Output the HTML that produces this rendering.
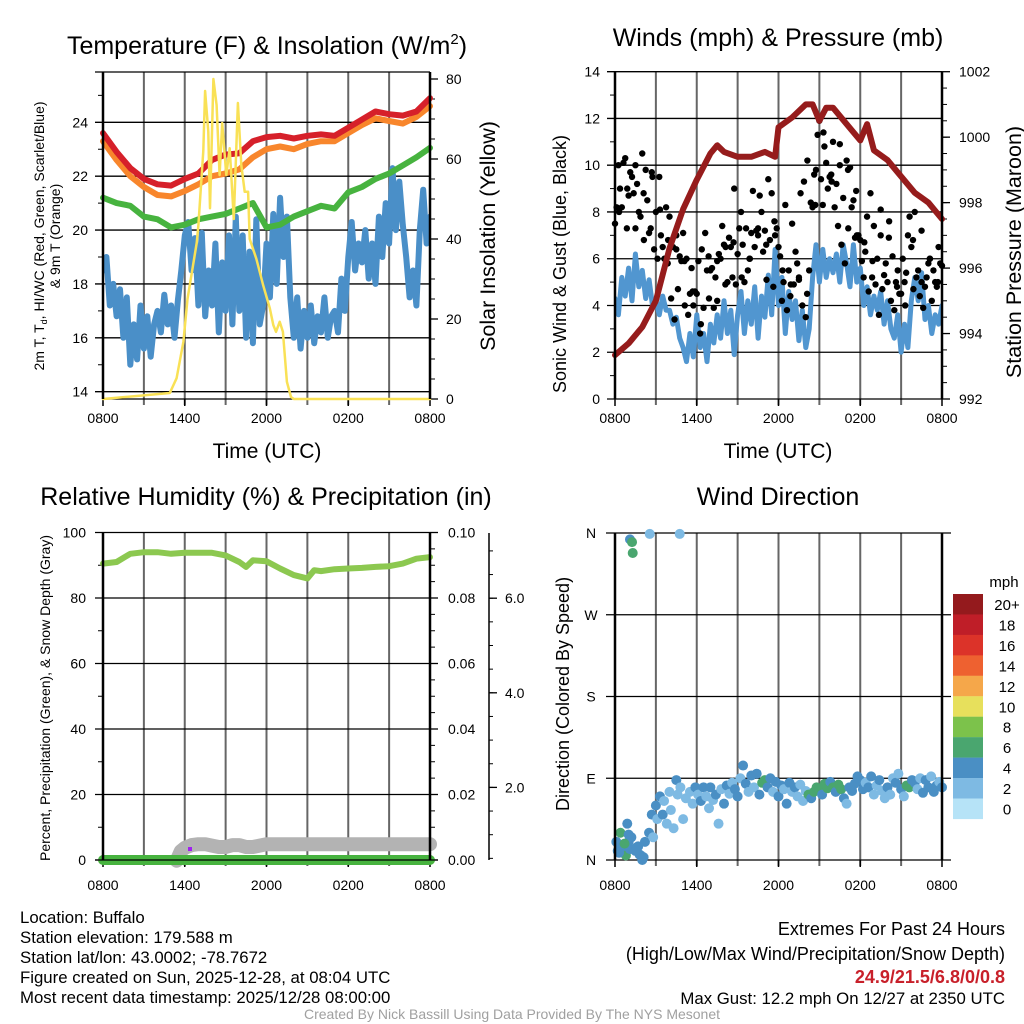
<!DOCTYPE html>
<html><head><meta charset="utf-8">
<style>
html,body{margin:0;padding:0;background:#fff;}
svg{display:block;font-family:"Liberation Sans",sans-serif;}
</style></head>
<body>
<svg id="chart" width="1024" height="1024" viewBox="0 0 1024 1024" xmlns="http://www.w3.org/2000/svg">
<rect width="1024" height="1024" fill="#fff"/>
<g id="layer"></g>
<text x="267" y="54" font-size="25" text-anchor="middle">Temperature (F) &amp; Insolation (W/m<tspan dy="-10" font-size="15">2</tspan><tspan dy="10">)</tspan></text>
<text x="778" y="46" font-size="25" text-anchor="middle">Winds (mph) &amp; Pressure (mb)</text>
<text x="266" y="505" font-size="25" text-anchor="middle">Relative Humidity (%) &amp; Precipitation (in)</text>
<text x="778" y="505" font-size="25" text-anchor="middle">Wind Direction</text>
<text x="267" y="458" font-size="21" text-anchor="middle">Time (UTC)</text>
<text x="778" y="458" font-size="21" text-anchor="middle">Time (UTC)</text>
<text transform="translate(44,236) rotate(-90)" font-size="14" text-anchor="middle">2m T, T<tspan dy="3" font-size="9">d</tspan><tspan dy="-3">, HI/WC (Red, Green, Scarlet/Blue)</tspan></text>
<text transform="translate(60,236) rotate(-90)" font-size="14" text-anchor="middle">&amp; 9m T (Orange)</text>
<text transform="translate(495,236) rotate(-90)" font-size="21.5" text-anchor="middle">Solar Insolation (Yellow)</text>
<text transform="translate(566,264) rotate(-90)" font-size="18" text-anchor="middle">Sonic Wind &amp; Gust (Blue, Black)</text>
<text transform="translate(1021,252) rotate(-90)" font-size="21.5" text-anchor="middle">Station Pressure (Maroon)</text>
<text transform="translate(50,698) rotate(-90)" font-size="14" text-anchor="middle">Percent, Precipitation (Green), &amp; Snow Depth (Gray)</text>
<text transform="translate(569,694) rotate(-90)" font-size="18" text-anchor="middle">Direction (Colored By Speed)</text>
<text x="1004" y="587" font-size="15" text-anchor="middle">mph</text>
<g font-size="16.8">
<text x="20" y="923">Location: Buffalo</text>
<text x="20" y="943">Station elevation: 179.588 m</text>
<text x="20" y="963">Station lat/lon: 43.0002; -78.7672</text>
<text x="20" y="983">Figure created on Sun, 2025-12-28, at 08:04 UTC</text>
<text x="20" y="1003">Most recent data timestamp: 2025/12/28 08:00:00</text>
</g>
<g text-anchor="end">
<text x="1005" y="935" font-size="18">Extremes For Past 24 Hours</text>
<text x="1005" y="960" font-size="18">(High/Low/Max Wind/Precipitation/Snow Depth)</text>
<text x="1005" y="983" font-size="18" fill="#c8202a" font-weight="bold">24.9/21.5/6.8/0/0.8</text>
<text x="1005" y="1004" font-size="16.8">Max Gust: 12.2 mph On 12/27 at 2350 UTC</text>
</g>
<text x="512" y="1019" font-size="14" fill="#a0a0a0" text-anchor="middle">Created By Nick Bassill Using Data Provided By The NYS Mesonet</text>
</svg>
<script>
// ---- data ----
const xTickLabels = ["0800","1400","2000","0200","0800"];
const tempRed = [23.6,22.9,22.3,21.9,21.7,21.65,21.9,22.1,22.6,22.8,22.85,23.3,23.45,23.5,23.4,23.5,23.55,23.5,23.8,24.1,24.4,24.3,24.25,24.4,24.9];
const temp9m = [23.3,22.6,22.0,21.6,21.3,21.25,21.45,21.7,22.0,22.1,22.25,22.7,23.0,23.1,23.0,23.2,23.3,23.3,23.6,23.9,24.15,24.05,23.95,24.2,24.6];
const dewGreen = [21.2,21.0,20.9,20.5,20.4,20.1,20.2,20.4,20.5,20.6,20.8,21.0,20.1,20.2,20.5,20.7,20.9,20.8,21.4,21.6,21.9,22.1,22.4,22.7,23.05];
const windChill = [18.5,19.0,17.2,18.0,16.8,17.8,16.0,17.5,15.0,16.5,15.2,17.2,15.6,16.8,15.3,16.5,
 17.0,16.2,17.6,16.5,17.2,16.0,17.4,18.5,19.8,20.3,18.5,19.7,17.2,19.9,16.8,18.5,
 17.2,19.5,16.2,18.8,17.0,19.8,16.5,20.5,17.0,19.8,16.0,19.2,15.8,20.4,16.5,17.2,
 19.5,17.5,20.6,18.0,21.2,19.0,20.5,17.5,16.0,17.5,15.6,17.0,16.0,17.2,15.8,16.8,
 16.2,17.5,16.0,16.8,17.0,16.2,18.2,17.0,19.0,20.3,18.5,19.5,18.8,20.0,18.2,19.5,
 18.0,20.5,19.0,21.0,19.5,22.3,20.0,21.8,20.2,19.0,17.5,18.5,17.2,20.0,21.5,19.5,20.5];
const solarTime = [0,4.9,5.4,5.9,6.2,6.88,7.0,7.36,7.49,7.73,7.85,8.1,8.34,8.56,8.75,9.05,9.3,9.6,9.9,10.15,10.4,10.65,10.77,11.26,11.75,12.24,12.5,12.7,12.97,13.2,13.5,13.8,14,24];
const solarVal  = [0,1.5,5.2,14.3,25,39,43.5,62,77,66.8,47.7,80,73.5,56,69,56,62.7,45,74,58.5,51.8,51.8,40,35,28.5,22.7,18.5,16.8,19.3,16.8,4.3,0.5,0,0];
const presTime = [0,1,2,3,4,5,6,7,7.5,8,9,10,11,11.75,12,13,14,14.5,15,15.5,16,17,18,18.5,19,20,21,22,23,24];
const presVal  = [993.34,993.7,994.2,995.0,996.6,997.8,998.7,999.5,999.75,999.55,999.4,999.4,999.55,999.4,1000.3,1000.6,1001.0,1001.0,1000.5,1000.9,1000.9,1000.4,999.9,1000.4,999.6,999.3,998.8,998.3,998.0,997.5];
const windSpeed = [4.3,3.6,5.2,4.4,5.6,4.2,6.2,4.8,5.5,4.3,5.1,4.0,4.2,3.6,4.4,3.8,
 3.8,3.2,3.5,2.6,2.2,1.6,2.8,1.8,3.6,2.2,2.8,1.6,3.2,2.4,3.6,2.6,
 4.2,2.8,3.8,1.9,3.6,4.6,2.8,4.2,3.2,4.8,2.6,4.4,3.5,5.3,3.6,6.4,
 4.0,5.2,2.8,4.6,3.4,4.2,2.5,3.8,2.2,3.0,5.2,6.6,5.0,6.4,5.2,6.0,
 5.4,6.2,5.0,6.6,5.8,4.8,6.6,5.0,5.6,4.0,4.8,3.6,4.4,3.8,4.6,3.2,
 4.2,3.0,2.6,3.6,2.0,3.2,2.2,4.2,5.2,4.2,5.4,3.4,4.0,2.8,3.6,3.2,4.0];
const gustSpeed = [7.5,10,8.2,10.3,8.7,9.5,10,8.0,10.5,9.8,7.1,9.5,8.0,9.5,6.5,8.2,7.8,6.5,7.0,6.1,7.1,6.0,4.5,4.0,4.5,2.8,3.9,5.5,5.5,3.9,4.2,6.0,6.6,5.0,6.5,9.0,6.2,8.0,5.0,5.5,7.1,6.5,7.0,8.0,7.2,9.4,8.8,7.0,6.5,4.2,8.3,5.5,7.5,6.3,5.2,4.0,3.5,5.5,8.2,9.8,11.9,8.3,10.1,9.5,11.0,9.2,10.0,8.6,10.2,9.9,8.5,7.0,6.8,5.2,7.8,8.8,7.4,6.0,7.0,5.3,5.0,4.2,3.8,5.5,4.5,5.0,7.0,6.5,8.0,5.5,5.0,4.8,5.8,4.2,5.0,6.5,5.7];
const gustSpeed2 = [8.0,9.0,7.3,8.8,9.7,8.1,6.8,6.4,5.9,4.6,3.2,4.3,5.9,4.9,6.7,5.2,6.0,7.3,6.6,7.6,5.5,4.9,5.1,4.5,8.3,11.4,9.3,10.9,9.8,8.9,6.7,5.9,8.1,6.9,4.8,4.0,4.7,7.2,6.0,5.0];
const gustSpeed3 = [8.2,9.0,10.1,7.3,9.7,8.8,9.2,7.8,6.8,8.5,7.3,6.4,6.0,7.0,6.0,5.8,4.3,3.4,4.7,5.9,4.0,3.6,5.6,4.6,5.9,6.4,7.1,6.1,5.6,5.2,6.2,7.4,6.5,6.9,5.2,4.9,7.3,6.6,7.3,6.0,8.9,7.2,8.7,6.3,5.1,6.8,4.8,7.3,6.1,5.0,3.8,4.4,4.9,5.8,8.8,9.3,10.2,8.4,9.6,11.3,9.4,10.8,9.0,9.6,8.2,7.4,6.6,5.8,7.3,8.2,6.9,7.0,5.9,6.3,4.6,5.2,4.9,3.6,4.7,5.8,7.6,6.1,5.0,4.5,6.0,5.4,7.8,6.8,5.2,4.4,3.9,5.2,6.0,5.5,4.8,5.8];
const rhTime = [0,1,2,3,4,5,6,7,8,9,10,10.5,11,12,13,14,15,15.5,16,17,18,19,20,21,22,23,24];
const rhVal  = [90.5,91,93.5,94,94,93.5,93.8,93.8,93.8,93,91,89.5,91.5,91.2,89,87,86,88.5,88.2,88.8,89,89.2,89.5,89.7,90.5,92,92.5];
const snowTime = [5.4,5.7,6,6.5,7,7.5,8,8.5,9,9.5,10,10.5,11,11.5,12,13,14,16,18,20,22,24];
const snowVal  = [0.45,0.65,0.72,0.78,0.8,0.8,0.77,0.74,0.74,0.78,0.78,0.74,0.74,0.77,0.8,0.8,0.8,0.8,0.8,0.8,0.8,0.8];
const dirTime = [0.1,0.2,0.4,0.6,0.8,0.9,1.0,1.1,1.0,1.2,1.5,1.7,1.9,2.0,2.2,2.5,2.7,2.8,3.0,3.1,3.3,3.5,3.6,3.8,4.0,4.1,4.3,4.5,4.6,4.8,5.0,5.2,5.5,5.7,5.9,6.1,6.3,6.5,6.7,6.9,7.0,7.2,7.4,7.6,7.8,8.0,8.2,8.4,8.6,8.8,9.0,9.2,9.4,9.6,9.8,10.0,10.2,10.4,10.6,10.8,11.0,11.2,11.4,11.6,11.8,12.0,12.2,12.4,12.6,12.8,13.0,13.2,13.4,13.6,13.8,14.0,14.2,14.4,14.6,14.8,15.0,15.2,15.4,15.6,15.8,16.0,16.2,16.4,16.6,16.8,17.0,17.2,17.4,17.6,17.8,18.0,18.2,18.4,18.6,18.8,19.0,19.2,19.4,19.6,19.8,20.0,20.2,20.4,20.6,20.8,21.0,21.2,21.4,21.6,21.8,22.0,22.2,22.4,22.6,22.8,23.0,23.2,23.4,23.6,23.8,24.0,1.1,1.25,1.3,2.55,4.75,0.3,0.7,1.6,1.8,2.1];
const dirVal  = [20,10,30,15,5,40,20,12,28,25,10,15,5,0,20,30,50,25,60,45,70,50,65,40,75,55,35,88,72,80,45,68,75,62,80,72,65,80,70,57,80,66,72,40,78,62,82,73,85,78,70,90,104,84,75,93,80,95,72,85,88,80,90,75,86,70,82,78,62,85,75,80,70,83,65,76,72,68,75,80,78,72,84,79,86,80,75,83,78,68,62,80,76,84,92,88,78,85,80,92,72,82,88,76,68,80,72,90,85,95,78,70,82,80,88,85,78,90,74,88,80,92,75,82,86,80,353,350,338,359,359,8,18,14,6,3];
const dirSpeed = [5,5,7,5,7,5,5,5,5,5,5,5,5,5,5,5,5,3,5,3,5,5,3,3,3,3,3,5,3,3,3,3,3,3,5,3,5,5,3,3,5,3,5,3,3,5,5,3,3,5,5,3,5,5,3,5,3,5,5,7,7,5,5,3,5,5,5,3,5,5,3,5,3,3,3,3,7,5,7,7,7,5,7,7,5,7,5,7,7,5,3,5,5,5,5,5,5,3,5,5,3,3,5,3,3,5,3,3,5,3,5,3,7,7,5,5,3,3,5,5,5,3,5,5,3,5,5,7,7,3,3,5,7,5,5,5];
const cbLabels = ["20+","18","16","14","12","10","8","6","4","2","0"];
const cbColors = ["#941a1d","#bf1e28","#dc3329","#ee6130","#f5a74a","#e7e05c","#7cc24b","#4aa66f","#4a8fc4","#7ebae3","#b6e3f7"];

// ---- scales ----
const NS="http://www.w3.org/2000/svg";
const layer=document.getElementById('layer');
function el(tag,attrs,parent){const e=document.createElementNS(NS,tag);for(const k in attrs)e.setAttribute(k,attrs[k]);(parent||layer).appendChild(e);return e;}
const xL=t=>103+t*13.625, xR=t=>615+t*13.625;
const yT=v=>122.3+(24-v)*26.94, yS=v=>399-v*4;
const yW=v=>399-v*23.38, yP=v=>399-(v-992)*32.73;
const yRH=v=>860-v*3.275, ySnow=v=>882-v*47.3, yPr=v=>860-v*3275;
const yD=v=>860-v*0.9083;

function panel(name){
  const g=el('g',{});
  
  
  return g;
}
function vgrid(g,xf,y0,y1){for(let h=3;h<24;h+=3){const l=el('line',{x1:xf(h),x2:xf(h),y1:y0,y2:y1+6,stroke:'#666','stroke-width':2},g);}
  for(let h=0;h<=24;h+=6){el('line',{x1:xf(h),x2:xf(h),y1:y1,y2:y1+7,stroke:'#000','stroke-width':1.5},g);}}
function xlabels(g,xf,y){xTickLabels.forEach((s,i)=>{const t=el('text',{x:xf(i*6),y:y,'font-size':14,'text-anchor':'middle'},g);t.textContent=s;});}
function hgrid(g,vals,yf,x0,x1,labX,fmt){vals.forEach(v=>{const l=el('line',{x1:x0,x2:x1,y1:yf(v),y2:yf(v),stroke:'#000','stroke-width':1.3},g);
  const t=el('text',{x:labX,y:yf(v)+5,'font-size':14,'text-anchor':'end'},g);t.textContent=fmt(v);});}
function ticks(g,vals,yf,x,len,w){vals.forEach(v=>{el('line',{x1:x,x2:x+len,y1:yf(v),y2:yf(v),stroke:'#000','stroke-width':w||1},g);});}
function line(g,xs,ys,color,w,name,clip){const d=xs.map((x,i)=>(i?'L':'M')+x.toFixed(1)+' '+ys[i].toFixed(1)).join('');const p=el('path',{d:d,fill:'none',stroke:color,'stroke-width':w,'stroke-linejoin':'round','stroke-linecap':'round'},g);if(clip)p.setAttribute('clip-path',clip);return p;}
function frame(g,x0,x1,y0,y1){el('line',{x1:x0,x2:x0,y1:y0,y2:y1,stroke:'#000','stroke-width':2.5},g);el('line',{x1:x1,x2:x1,y1:y0,y2:y1,stroke:'#000','stroke-width':2.5},g);}
const range=(a,b,s)=>{const r=[];for(let v=a;v<=b+1e-9;v+=s)r.push(+v.toFixed(4));return r;};
const defs=el('defs',{});
[['c1',103,72,327,327],['c2',615,72,327,327]].forEach(c=>{const cp=el('clipPath',{id:c[0]},defs);el('rect',{x:c[1],y:c[2],width:c[3],height:c[4]},cp);});

// ---- panel 1 ----
let g=panel('temperature-panel');
vgrid(g,xL,72,399);
hgrid(g,[14,16,18,20,22,24],yT,95,430,88,v=>v);
el('line',{x1:95,x2:430,y1:72,y2:72,stroke:'#000','stroke-width':1.3},g);
ticks(g,range(15,25,2),yT,103,-5);
ticks(g,range(0,80,20),yS,430,8,1.3);ticks(g,range(5,75,5),yS,430,5);
range(0,80,20).forEach(v=>{const t=el('text',{x:446,y:yS(v)+5,'font-size':14},g);t.textContent=v;});
el('line',{x1:103,x2:430,y1:399,y2:399,stroke:'#000','stroke-width':1.3},g);
const hrs=tempRed.map((_,i)=>i);
line(g,windChill.map((_,i)=>xL(i*0.25)),windChill.map(yT),'#4a8fc8',6,'windchill-line','url(#c1)');
line(g,hrs.map(xL),dewGreen.map(yT),'#47b33f',6,'dewpoint-line');
line(g,hrs.map(xL),temp9m.map(yT),'#f8862c',6,'temp-9m-line');
line(g,hrs.map(xL),tempRed.map(yT),'#d6202a',6,'temp-2m-line');
line(g,solarTime.map(xL),solarVal.map(yS),'#f9e156',2.5,'solar-line');
frame(g,103,430,72,399);
xlabels(g,xL,423);

// ---- panel 2 ----
g=panel('wind-panel');
vgrid(g,xR,72,399);
hgrid(g,[0,2,4,6,8,10,12,14],yW,607,942,600,v=>v);
ticks(g,range(1,13,2),yW,615,-5);
ticks(g,range(992,1002,2),yP,942,8,1.3);ticks(g,range(992.5,1001.5,0.5),yP,942,5);
range(992,1002,2).forEach(v=>{const t=el('text',{x:959,y:yP(v)+5,'font-size':14},g);t.textContent=v;});
line(g,windSpeed.map((_,i)=>xR(i*0.25)),windSpeed.map(yW),'#5196d0',5,'wind-speed-line','url(#c2)');
gustSpeed.forEach((v,i)=>{const c=el('circle',{cx:xR(i*0.25),cy:yW(v),r:3.2,fill:'#000'},g);});
gustSpeed2.forEach((v,i)=>{const c=el('circle',{cx:xR(i*0.6+0.3),cy:yW(v),r:3.2,fill:'#000'},g);});
gustSpeed3.forEach((v,i)=>{const c=el('circle',{cx:xR(i*0.25+0.12),cy:yW(v),r:3.2,fill:'#000'},g);});
line(g,presTime.map(xR),presVal.map(yP),'#961c1c',6,'pressure-line');
frame(g,615,942,72,399);
xlabels(g,xR,423);

// ---- panel 3 ----
g=panel('humidity-panel');
vgrid(g,xL,533,860);
hgrid(g,[0,20,40,60,80,100],yRH,95,430,86,v=>v);
ticks(g,range(10,90,20),yRH,103,-5);
ticks(g,range(0,0.1,0.02),yPr,430,8,1.3);ticks(g,range(0.005,0.095,0.005),yPr,430,5);
range(0,0.1,0.02).forEach(v=>{const t=el('text',{x:448,y:yPr(v)+5,'font-size':14},g);t.textContent=v.toFixed(2);});
el('line',{x1:489,x2:489,y1:533,y2:860,stroke:'#000','stroke-width':1.5},g);
ticks(g,[2,4,6],ySnow,489,8,1.3);ticks(g,range(0.5,7,0.5),ySnow,489,4);
[2,4,6].forEach(v=>{const t=el('text',{x:505,y:ySnow(v)+5,'font-size':14},g);t.textContent=v.toFixed(1);});
line(g,snowTime.map(xL),snowVal.map(ySnow),'#b3b3b3',14,'snow-depth-line');
line(g,[xL(0),xL(24)],[yPr(0),yPr(0)],'#47b33f',10,'precip-line');
const pu=el('rect',{x:188,y:847,width:4,height:4,fill:'#a020f0'},g);
line(g,rhTime.map(xL),rhVal.map(yRH),'#8cc850',6,'rh-line');
frame(g,103,430,533,860);
el('line',{x1:95,x2:438,y1:860,y2:860,stroke:'#000','stroke-width':1.3},g);
xlabels(g,xL,890);

// ---- panel 4 ----
g=panel('direction-panel');
vgrid(g,xR,533,860);
[[0,'N'],[90,'E'],[180,'S'],[270,'W'],[360,'N']].forEach(d=>{const l=el('line',{x1:606,x2:951,y1:yD(d[0]),y2:yD(d[0]),stroke:'#000','stroke-width':1.3},g);const t=el('text',{x:591,y:yD(d[0])+5,'font-size':14,'text-anchor':'middle'},g);t.textContent=d[1];});
dirVal.forEach((v,i)=>{const bin=Math.min(10,Math.floor(dirSpeed[i]/2));const c=el('circle',{cx:xR(dirTime[i]),cy:yD(v),r:5,fill:cbColors[10-bin]},g);});
frame(g,615,942,533,860);
xlabels(g,xR,890);
const cb=el('g',{});


cbColors.forEach((c,i)=>{const r=el('rect',{x:953,y:594+i*20.45,width:30,height:20.6,fill:c},cb);const t=el('text',{x:1007,y:594+i*20.45+16,'font-size':15,'text-anchor':'middle'},cb);t.textContent=cbLabels[i];});
</script>
</body></html>
